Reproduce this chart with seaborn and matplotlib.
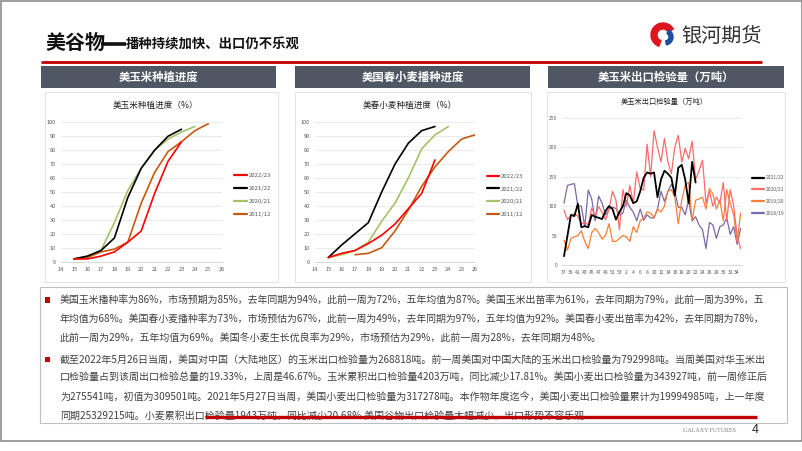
import matplotlib
matplotlib.use("Agg")
import matplotlib.pyplot as plt
import numpy as np
import pandas as pd
import seaborn as sns
from matplotlib.patches import Rectangle, Wedge
from matplotlib.lines import Line2D

# ---------------- data ----------------
seasons = ["2022/23", "2021/22", "2020/21", "2011/12"]

corn_2223_wk = [15, 16, 17, 18, 19, 20, 21, 22, 23]
corn_2223_pct = [2, 2, 4, 7, 14, 22, 49, 72, 86]
corn_2122_wk = [15, 16, 17, 18, 19, 20, 21, 22, 23]
corn_2122_pct = [2, 4, 8, 17, 46, 67, 80, 90, 95]
corn_2021_wk = [15, 16, 17, 18, 19, 20, 21, 22, 23, 24]
corn_2021_pct = [2, 4, 8, 28, 51, 67, 80, 88, 93, 97]
corn_1112_wk = [15, 16, 17, 18, 19, 20, 21, 22, 23, 24, 25]
corn_1112_pct = [2, 3, 7, 9, 14, 42, 64, 79, 86, 94, 99]

wheat_2223_wk = [15, 16, 17, 18, 19, 20, 21, 22, 23]
wheat_2223_pct = [3, 6, 8, 13, 19, 27, 38, 49, 73]
wheat_2122_wk = [15, 16, 17, 18, 19, 20, 21, 22, 23]
wheat_2122_pct = [3, 12, 20, 28, 50, 70, 85, 94, 97]
wheat_2021_wk = [15, 16, 17, 18, 19, 20, 21, 22, 23, 24]
wheat_2021_pct = [3, 5, 8, 14, 29, 42, 60, 81, 91, 97]
wheat_1112_wk = [17, 18, 19, 20, 21, 22, 23, 24, 25, 26]
wheat_1112_pct = [5, 6, 10, 22, 37, 54, 68, 79, 88, 91]

export_weeks = [37, 38, 39, 40, 41, 42, 43, 44, 45, 46, 47, 48, 49, 50, 51, 52, 53,
                1, 2, 3, 4, 5, 6, 7, 8, 9, 10, 11, 12, 13, 14, 15, 16, 17, 18, 19, 20,
                21, 22, 23, 24, 25, 26, 27, 28, 29, 30, 31, 32, 33, 34, 35]
export_seasons = ["2021/22", "2020/21", "2019/20", "2018/19"]
exp_2122 = [15, 50, 85, 83, 104, 64, 66, 64, 85, 82, 80, 78, 92, 100, 95, 77, 90, 100, 122, 118,
            105, 108, 125, 148, 157, 155, 157, 115, 145, 160, 155, 148, 118, 165, 170, 145, 105, 175, 140]
exp_2021 = [93, 77, 84, 87, 83, 70, 72, 68, 97, 82, 99, 89, 77, 95, 125, 110, 60, 128, 100, 135,
            105, 158, 130, 127, 205, 150, 228, 200, 175, 215, 175, 155, 200, 220, 175, 198, 180, 210, 145, 160,
            178, 105, 125, 100, 115, 105, 140, 75, 128, 100, 50, 28]
exp_1920 = [42, 25, 45, 48, 50, 58, 40, 28, 55, 62, 55, 44, 50, 70, 40, 40, 45, 50, 48, 40,
            65, 55, 75, 80, 90, 88, 80, 95, 90, 100, 125, 128, 115, 70, 110, 135, 140, 75, 110, 112,
            115, 95, 130, 120, 95, 110, 75, 128, 105, 85, 40, 88]
exp_1819 = [105, 135, 137, 138, 100, 100, 65, 127, 112, 75, 117, 105, 85, 95, 98, 96, 85, 88, 110, 98,
            90, 75, 95, 76, 85, 80, 80, 95, 125, 108, 125, 137, 125, 98, 98, 85, 110, 75, 82, 68,
            60, 28, 72, 68, 45, 65, 68, 80, 52, 65, 35, 62]

header_titles = ["美玉米种植进度", "美国春小麦播种进度", "美玉米出口检验量（万吨）"]
chart_titles = ["美玉米种植进度（%）", "美春小麦种植进度（%）", "美玉米出口检验量（万吨）"]

body_lines_1 = [
    "美国玉米播种率为86%，市场预期为85%，去年同期为94%，此前一周为72%，五年均值为87%。美国玉米出苗率为61%，去年同期为79%，此前一周为39%，五",
    "年均值为68%。美国春小麦播种率为73%，市场预估为67%，此前一周为49%，去年同期为97%，五年均值为92%。美国春小麦出苗率为42%，去年同期为78%，",
    "此前一周为29%，五年均值为69%。美国冬小麦生长优良率为29%，市场预估为29%，此前一周为28%，去年同期为48%。",
]
body_lines_2 = [
    "截至2022年5月26日当周，美国对中国（大陆地区）的玉米出口检验量为268818吨。前一周美国对中国大陆的玉米出口检验量为792998吨。当周美国对华玉米出",
    "口检验量占到该周出口检验总量的19.33%，上周是46.67%。玉米累积出口检验量4203万吨，同比减少17.81%。美国小麦出口检验量为343927吨，前一周修正后",
    "为275541吨，初值为309501吨。2021年5月27日当周，美国小麦出口检验量为317278吨。本作物年度迄今，美国小麦出口检验量累计为19994985吨，上一年度",
    "同期25329215吨。小麦累积出口检验量1943万吨，同比减少20.68%.美国谷物出口检验量大幅减少，出口形势不容乐观",
]

# ---------------- style ----------------
sns.set_theme(style="white")
plt.rcParams["font.family"] = ["Noto Sans CJK SC", "DejaVu Sans"]

W, H = 802, 451
fig = plt.figure(figsize=(W / 100, H / 100), dpi=100)
fig.patch.set_facecolor("white")


def px_axes(x0, y0, x1, y1):
    return fig.add_axes([x0 / W, 1 - y1 / H, (x1 - x0) / W, (y1 - y0) / H])


bg = fig.add_axes([0, 0, 1, 1])
bg.set_xlim(0, W)
bg.set_ylim(H, 0)
bg.axis("off")
bg.set_zorder(0)

# slide frame
bg.add_patch(Rectangle((0.5, 0.5), W - 1, 440, fill=False, ec="#8C8C8C", lw=1.2))

# title
bg.text(45, 49, "美谷物", fontsize=14.4, fontweight="bold", color="#111111", va="baseline", ha="left")
bg.plot([101, 126], [43.5, 43.5], color="#111111", lw=2.6, solid_capstyle="butt")
bg.text(126, 49, "播种持续加快、出口仍不乐观", fontsize=9.6, fontweight="bold", color="#111111",
        va="baseline", ha="left")

# logo
bg.add_patch(Wedge((663, 35), 12, 110, 330, width=6, color="#E0141E"))
bg.add_patch(Wedge((665, 37), 8, 300, 80, width=4, color="#1F4E9E"))
bg.text(681, 36, "银河期货", fontsize=14.5, color="#333333", va="center", ha="left")

# red line under title
bg.plot([41, 762], [61.5, 61.5], color="#C00000", lw=2.0, solid_capstyle="butt")

# header bars
header_boxes = [(41, 276), (295, 530), (548, 784)]
for (x0, x1), t in zip(header_boxes, header_titles):
    bg.add_patch(Rectangle((x0, 65.5), x1 - x0, 22.5, color="#4F5764", lw=0))
    bg.text((x0 + x1) / 2, 77, t, fontsize=8.2, fontweight="bold", color="white", va="center", ha="center")

# chart panels
panel_boxes = [(45, 278), (295, 531), (547, 785)]
for x0, x1 in panel_boxes:
    bg.add_patch(Rectangle((x0, 92), x1 - x0, 190, fill=False, ec="#E2E2E2", lw=0.7))

# chart titles
bg.text(155, 105, chart_titles[0], fontsize=6.2, color="#222222", ha="center", va="center")
bg.text(410, 105, chart_titles[1], fontsize=6.2, color="#222222", ha="center", va="center")
bg.text(664, 102, chart_titles[2], fontsize=5.2, color="#222222", ha="center", va="center")


def style_ax(ax, xlim, ylim, xticks, yticks, fs=4.0):
    ax.set_facecolor("none")
    ax.set_xlim(*xlim)
    ax.set_ylim(*ylim)
    ax.set_xticks(xticks)
    ax.set_yticks(yticks)
    for s in ["top", "right", "left"]:
        ax.spines[s].set_visible(False)
    ax.spines["bottom"].set_color("#D9D9D9")
    ax.spines["bottom"].set_linewidth(0.7)
    ax.yaxis.grid(True, color="#E6E6E6", lw=0.6)
    ax.xaxis.grid(False)
    ax.set_axisbelow(True)
    ax.tick_params(axis="both", length=0, labelsize=fs, labelcolor="#595959", pad=3.5)
    ax.set_xlabel("")
    ax.set_ylabel("")


def add_legend(ax, labels, colors, x_px, y_top_px, fs, spacing_px, handle_px):
    fs_px = fs / 0.72
    handles = [Line2D([0], [0], color=c, lw=1.6) for c in colors]
    ax.legend(handles, labels, loc="upper left", bbox_to_anchor=(x_px / W, 1 - y_top_px / H),
              bbox_transform=fig.transFigure, frameon=False, fontsize=fs, borderpad=0,
              borderaxespad=0, labelspacing=(spacing_px - fs_px) / fs_px,
              handlelength=handle_px / fs_px, handletextpad=0.35, labelcolor="#595959")


prog_palette = {"2022/23": "#FF0000", "2021/22": "#000000", "2020/21": "#A4C267", "2011/12": "#C65911"}
draw_order = ["2011/12", "2020/21", "2021/22", "2022/23"]

# chart 1 - corn planting
corn_df = pd.concat([
    pd.DataFrame({"week": corn_2223_wk, "pct": corn_2223_pct, "season": "2022/23"}),
    pd.DataFrame({"week": corn_2122_wk, "pct": corn_2122_pct, "season": "2021/22"}),
    pd.DataFrame({"week": corn_2021_wk, "pct": corn_2021_pct, "season": "2020/21"}),
    pd.DataFrame({"week": corn_1112_wk, "pct": corn_1112_pct, "season": "2011/12"}),
])
ax1 = px_axes(60.7, 122.3, 221.7, 261.7)
ax1.set_zorder(1)
sns.lineplot(data=corn_df, x="week", y="pct", hue="season", hue_order=draw_order,
             palette=prog_palette, estimator=None, linewidth=1.2, legend=False, ax=ax1)
style_ax(ax1, (14, 26), (0, 100), range(14, 27), range(0, 101, 10))
add_legend(ax1, seasons, [prog_palette[s] for s in seasons], 234, 172.5, 4.3, 14, 13)

# chart 2 - spring wheat planting
wheat_df = pd.concat([
    pd.DataFrame({"week": wheat_2223_wk, "pct": wheat_2223_pct, "season": "2022/23"}),
    pd.DataFrame({"week": wheat_2122_wk, "pct": wheat_2122_pct, "season": "2021/22"}),
    pd.DataFrame({"week": wheat_2021_wk, "pct": wheat_2021_pct, "season": "2020/21"}),
    pd.DataFrame({"week": wheat_1112_wk, "pct": wheat_1112_pct, "season": "2011/12"}),
])
ax2 = px_axes(315, 122.3, 475, 261.7)
ax2.set_zorder(1)
sns.lineplot(data=wheat_df, x="week", y="pct", hue="season", hue_order=draw_order,
             palette=prog_palette, estimator=None, linewidth=1.2, legend=False, ax=ax2)
style_ax(ax2, (14, 26), (0, 100), range(14, 27), range(0, 101, 10))
add_legend(ax2, seasons, [prog_palette[s] for s in seasons], 487, 173.5, 4.3, 13.7, 12)

# chart 3 - corn export inspections
exp_palette = {"2021/22": "#000000", "2020/21": "#FF6A6A", "2019/20": "#F78038", "2018/19": "#7B68A8"}
exp_df = pd.concat([
    pd.DataFrame({"idx": range(len(exp_2122)), "val": exp_2122, "season": "2021/22"}),
    pd.DataFrame({"idx": range(len(exp_2021)), "val": exp_2021, "season": "2020/21"}),
    pd.DataFrame({"idx": range(len(exp_1920)), "val": exp_1920, "season": "2019/20"}),
    pd.DataFrame({"idx": range(len(exp_1819)), "val": exp_1819, "season": "2018/19"}),
])
exp_order = ["2018/19", "2019/20", "2020/21", "2021/22"]
ax3 = px_axes(562, 117.7, 742, 265)
ax3.set_zorder(1)
sns.lineplot(data=exp_df, x="idx", y="val", hue="season", hue_order=exp_order,
             palette=exp_palette, estimator=None, linewidth=0.9, legend=False, ax=ax3)
ax3.lines[-1].set_linewidth(1.3)
style_ax(ax3, (-0.58, 51.4), (0, 250), range(0, len(export_weeks), 2), range(0, 251, 50), fs=3.6)
ax3.set_xticklabels([str(w) for w in export_weeks[::2]])
add_legend(ax3, export_seasons, [exp_palette[s] for s in export_seasons], 752, 175.5, 3.6, 11.7, 12)

# ---------------- text box ----------------
bg.add_patch(Rectangle((40, 287), 747, 136, fill=False, ec="#BFBFBF", lw=0.8))
for by in (300, 359.5):
    bg.add_patch(Rectangle((44.5, by - 2.7), 5.4, 5.4, color="#C00000", lw=0))

y1s = [300, 318.7, 337.4]
y2s = [359.5, 378.2, 396.9, 415.6]
base_fs = 7.2
texts = []
for s, y in zip(body_lines_1, y1s):
    texts.append(bg.text(60, y, s, fontsize=base_fs, color="#404040", va="center", ha="left"))
for s, y in zip(body_lines_2, y2s):
    texts.append(bg.text(60, y, s, fontsize=base_fs, color="#404040", va="center", ha="left"))

fig.canvas.draw()
r = fig.canvas.get_renderer()
full_idx = [0, 1, 3, 4, 5]
target = 767 - 60
sizes = []
for i in full_idx:
    w = texts[i].get_window_extent(renderer=r).width
    fs = base_fs * target / w
    sizes.append(fs)
    texts[i].set_fontsize(fs)
common = float(np.median(sizes))
texts[2].set_fontsize(common)
texts[6].set_fontsize(common)

# red underline over last line
bg.plot([205, 757], [416.5, 416.5], color="#C00000", lw=2.4, solid_capstyle="butt", zorder=5)

# footer
bg.text(709, 430, "GALAXY FUTURES", fontsize=4.3, color="#7F7F7F", family="Liberation Serif",
        ha="center", va="center")
bg.text(755, 429.5, "4", fontsize=9, color="#333333", ha="center", va="center")

fig.savefig("out.png", dpi=100, facecolor="white")
